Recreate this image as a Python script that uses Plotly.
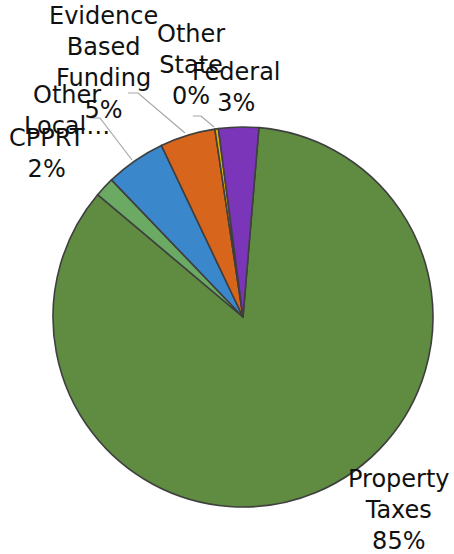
import plotly.graph_objects as go

# Revenue sources, share of total (%)
categories = ["Property Taxes", "CPPRT", "Other Local", "Evidence Based Funding", "Other State", "Federal"]
shares = [84.8, 1.7, 5.1, 4.7, 0.3, 3.4]
colors = ["#5f8c40", "#6aaa63", "#3a87cc", "#d7661c", "#e0b000", "#7b35b8"]

W, H = 454, 554
CX, CY, R = 243, 317, 190

fig = go.Figure(
    go.Pie(
        labels=categories,
        values=shares,
        sort=False,
        direction="clockwise",
        rotation=4.8,
        textinfo="none",
        hoverinfo="label+percent",
        marker=dict(colors=colors, line=dict(color="#3f3f3f", width=1.6)),
        domain=dict(
            x=[(CX - R) / W, (CX + R) / W],
            y=[(H - CY - R) / H, (H - CY + R) / H],
        ),
    )
)

# Label placement (pixel centres of each text block)
label_pos = {
    "Property Taxes": (399, 510),
    "CPPRT": (47, 154),
    "Other Local": (67, 111),
    "Evidence Based Funding": (103, 63),
    "Other State": (191, 65),
    "Federal": (236, 87),
}
truncated = {"Other Local": "Other<br>Local…"}

for name, val in zip(categories, shares):
    px, py = label_pos[name]
    if name in truncated:
        txt = truncated[name]
    else:
        txt = name.replace(" ", "<br>") + f"<br>{round(val):.0f}%"
    fig.add_annotation(
        x=px / W, y=1 - py / H, xref="paper", yref="paper",
        text=txt, showarrow=False, xanchor="center", yanchor="middle",
        font=dict(family="DejaVu Sans", size=24, color="#111111"),
    )

# Leader lines for the small slices
leaders = [
    [(128, 93), (138, 93), (185, 133)],
    [(193, 116), (201, 116), (214, 127)],
    [(90, 118), (100, 118), (132, 160)],
]
for pts in leaders:
    path = "M " + " L ".join(f"{x / W},{1 - y / H}" for x, y in pts)
    fig.add_shape(type="path", path=path, xref="paper", yref="paper",
                  line=dict(color="#a6a6a6", width=1.2))

fig.update_layout(
    width=W, height=H,
    margin=dict(l=0, r=0, t=0, b=0),
    paper_bgcolor="white",
    plot_bgcolor="white",
    showlegend=False,
)

fig.write_html("out.html")
